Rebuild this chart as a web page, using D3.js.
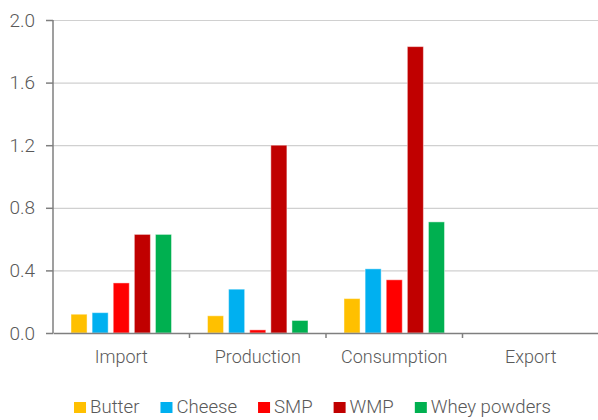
<!DOCTYPE html>
<html>
<head>
<meta charset="utf-8">
<script src="https://cdn.jsdelivr.net/npm/d3@7"></script>
<style>
  body { margin: 0; background: #fff; }
  text { font-family: Roboto, "Liberation Sans", sans-serif; font-weight: 300; fill: #595959; }
</style>
</head>
<body>
<div id="chart"></div>
<script>
// data
var categories = ["Import", "Production", "Consumption", "Export"];
var products = ["Butter", "Cheese", "SMP", "WMP", "Whey powders"];
var butter = [0.12, 0.11, 0.22, 0];
var cheese = [0.13, 0.28, 0.41, 0];
var smp = [0.32, 0.02, 0.34, 0];
var wmp = [0.63, 1.20, 1.83, 0];
var whey = [0.63, 0.08, 0.71, 0];
var yTicks = [0, 0.4, 0.8, 1.2, 1.6, 2.0];

var colors = ["#FFC000", "#00B0F0", "#FF0000", "#C00000", "#00B050"];
var series = [butter, cheese, smp, wmp, whey];

// setup
var width = 598,
    height = 420,
    plotLeft = 53,
    plotRight = 599,
    plotTop = 20,
    plotBottom = 333;

var svg = d3.select("#chart").append("svg")
    .attr("width", width)
    .attr("height", height);

var x0 = d3.scaleBand()
    .domain(categories)
    .range([plotLeft, plotRight]);

var x1 = d3.scaleBand()
    .domain(d3.range(products.length))
    .range([18, x0.bandwidth() - 18])
    .paddingInner(0.24)
    .paddingOuter(0);

var y = d3.scaleLinear()
    .domain([0, 2])
    .range([plotBottom, plotTop]);

// gridlines
svg.append("g")
    .selectAll("line")
    .data(yTicks.filter(function (d) { return d > 0; }))
    .enter().append("line")
    .attr("x1", plotLeft)
    .attr("x2", plotRight)
    .attr("y1", function (d) { return y(d) + 0.5; })
    .attr("y2", function (d) { return y(d) + 0.5; })
    .attr("stroke", "#d0d0d0")
    .attr("stroke-width", 1.2);

// bars
var groups = svg.append("g")
    .selectAll("g")
    .data(categories)
    .enter().append("g")
    .attr("transform", function (d) { return "translate(" + x0(d) + ",0)"; });

groups.selectAll("rect")
    .data(function (d, i) {
        return series.map(function (s, j) { return { k: j, v: s[i] }; });
    })
    .enter().append("rect")
    .filter(function (d) { return d.v > 0; })
    .attr("x", function (d) { return x1(d.k); })
    .attr("width", x1.bandwidth())
    .attr("y", function (d) { return y(d.v); })
    .attr("height", function (d) { return plotBottom - y(d.v); })
    .attr("fill", function (d) { return colors[d.k]; })
    .attr("stroke", "#fff")
    .attr("stroke-opacity", 0.45)
    .attr("stroke-width", 1);

// y axis
var yAxis = svg.append("g")
    .attr("transform", "translate(" + plotLeft + ",0)")
    .call(d3.axisLeft(y).tickValues(yTicks).tickFormat(d3.format(".1f")).tickSize(7).tickPadding(11));
yAxis.select(".domain").attr("stroke", "#7f7f7f").attr("stroke-width", 1.5).attr("d", "M0," + plotTop + "V" + plotBottom);
yAxis.selectAll(".tick line").attr("stroke", "#7f7f7f").attr("stroke-width", 1.5);
yAxis.selectAll(".tick text").style("font-size", "19px").attr("fill", "#595959");

// x axis
var xAxis = svg.append("g")
    .attr("transform", "translate(0," + plotBottom + ")")
    .call(d3.axisBottom(x0).tickSize(0).tickPadding(17));
xAxis.select(".domain").attr("stroke", "#7f7f7f").attr("stroke-width", 1.5);
xAxis.selectAll(".tick text").style("font-size", "18px").attr("fill", "#595959");

// category separators
svg.append("g")
    .selectAll("line")
    .data(categories.slice(1))
    .enter().append("line")
    .attr("x1", function (d) { return x0(d); })
    .attr("x2", function (d) { return x0(d); })
    .attr("y1", plotBottom)
    .attr("y2", plotBottom + 5)
    .attr("stroke", "#7f7f7f")
    .attr("stroke-width", 1.5);

// legend
var legend = svg.append("g").attr("transform", "translate(0,413)");
var lx = 0;
var items = legend.selectAll("g")
    .data(products)
    .enter().append("g");
items.append("rect")
    .attr("y", -11)
    .attr("width", 12)
    .attr("height", 11)
    .attr("fill", function (d, i) { return colors[i]; });
items.append("text")
    .attr("x", 16)
    .style("font-size", "18.6px")
    .text(function (d) { return d; });
items.each(function () {
    var g = d3.select(this);
    g.attr("transform", "translate(" + lx + ",0)");
    lx += 16 + g.select("text").node().getComputedTextLength() + 21;
});
lx -= 21;
legend.attr("transform", "translate(" + (312.5 - lx / 2) + ",413)");
</script>
</body>
</html>
